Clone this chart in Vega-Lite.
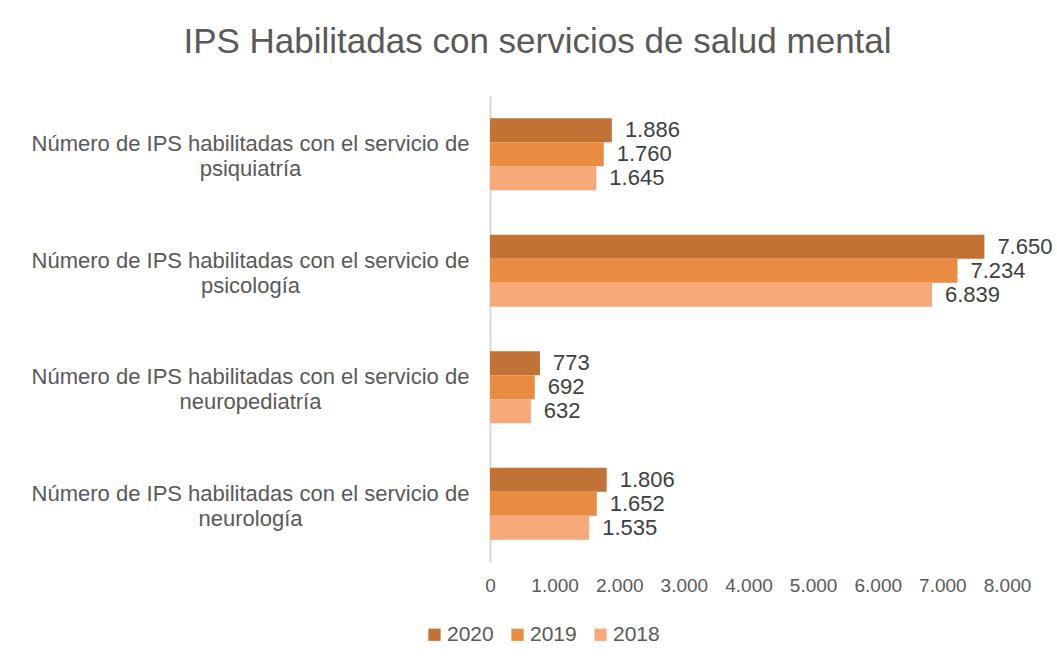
{
  "$schema": "https://vega.github.io/schema/vega-lite/v6.json",
  "autosize": "none",
  "width": 517,
  "height": 466,
  "padding": {"left": 490, "top": 96, "right": 50, "bottom": 104},
  "background": "white",
  "config": {
    "font": "Liberation Sans",
    "view": {"stroke": null},
    "locale": {"number": {"decimal": ",", "thousands": ".", "grouping": [3], "currency": ["$", ""]}}
  },
  "title": {
    "text": "IPS Habilitadas con servicios de salud mental",
    "fontSize": 35,
    "fontWeight": "normal",
    "color": "#595959",
    "anchor": "middle",
    "dx": -211,
    "offset": 36
  },
  "data": {
    "values": [
      {"servicio": "Número de IPS habilitadas con el servicio de psiquiatría", "year": "2020", "value": 1886},
      {"servicio": "Número de IPS habilitadas con el servicio de psiquiatría", "year": "2019", "value": 1760},
      {"servicio": "Número de IPS habilitadas con el servicio de psiquiatría", "year": "2018", "value": 1645},
      {"servicio": "Número de IPS habilitadas con el servicio de psicología", "year": "2020", "value": 7650},
      {"servicio": "Número de IPS habilitadas con el servicio de psicología", "year": "2019", "value": 7234},
      {"servicio": "Número de IPS habilitadas con el servicio de psicología", "year": "2018", "value": 6839},
      {"servicio": "Número de IPS habilitadas con el servicio de neuropediatría", "year": "2020", "value": 773},
      {"servicio": "Número de IPS habilitadas con el servicio de neuropediatría", "year": "2019", "value": 692},
      {"servicio": "Número de IPS habilitadas con el servicio de neuropediatría", "year": "2018", "value": 632},
      {"servicio": "Número de IPS habilitadas con el servicio de neurología", "year": "2020", "value": 1806},
      {"servicio": "Número de IPS habilitadas con el servicio de neurología", "year": "2019", "value": 1652},
      {"servicio": "Número de IPS habilitadas con el servicio de neurología", "year": "2018", "value": 1535}
    ]
  },
  "encoding": {
    "y": {
      "field": "servicio",
      "type": "nominal",
      "sort": null,
      "scale": {"paddingInner": 0.382, "paddingOuter": 0.19},
      "axis": {
        "title": null,
        "ticks": false,
        "domainColor": "#D9D9D9",
        "domainWidth": 2,
        "labelExpr": "[substring(datum.label,0,44), substring(datum.label,45)]",
        "labelAlign": "center",
        "labelBaseline": "middle",
        "labelPadding": 240,
        "labelOffset": -10,
        "labelFontSize": 22,
        "labelLineHeight": 25,
        "labelColor": "#595959",
        "labelLimit": 0
      }
    },
    "yOffset": {
      "field": "year",
      "type": "nominal",
      "sort": ["2020", "2019", "2018"],
      "scale": {"paddingInner": 0, "paddingOuter": 0}
    },
    "x": {
      "field": "value",
      "type": "quantitative",
      "scale": {"domain": [0, 8000]},
      "axis": {
        "title": null,
        "domain": false,
        "ticks": false,
        "grid": false,
        "tickCount": 8,
        "format": ",d",
        "labelFontSize": 19,
        "labelColor": "#595959",
        "labelPadding": 14,
        "labelFlush": false
      }
    }
  },
  "layer": [
    {
      "mark": {"type": "bar"},
      "encoding": {
        "color": {
          "field": "year",
          "type": "nominal",
          "sort": ["2020", "2019", "2018"],
          "scale": {"domain": ["2020", "2019", "2018"], "range": ["#C27234", "#E98C42", "#F7A97A"]},
          "legend": {
            "title": null,
            "orient": "none",
            "direction": "horizontal",
            "legendX": -66,
            "legendY": 528,
            "symbolType": "square",
            "symbolSize": 150,
            "symbolStrokeWidth": 0,
            "labelFontSize": 21,
            "labelColor": "#595959",
            "columnPadding": 13,
            "labelOffset": 2
          }
        }
      }
    },
    {
      "mark": {"type": "text", "align": "left", "baseline": "middle", "dx": 13, "fontSize": 22, "color": "#404040"},
      "encoding": {
        "text": {"field": "value", "type": "quantitative", "format": ",d"}
      }
    }
  ]
}
